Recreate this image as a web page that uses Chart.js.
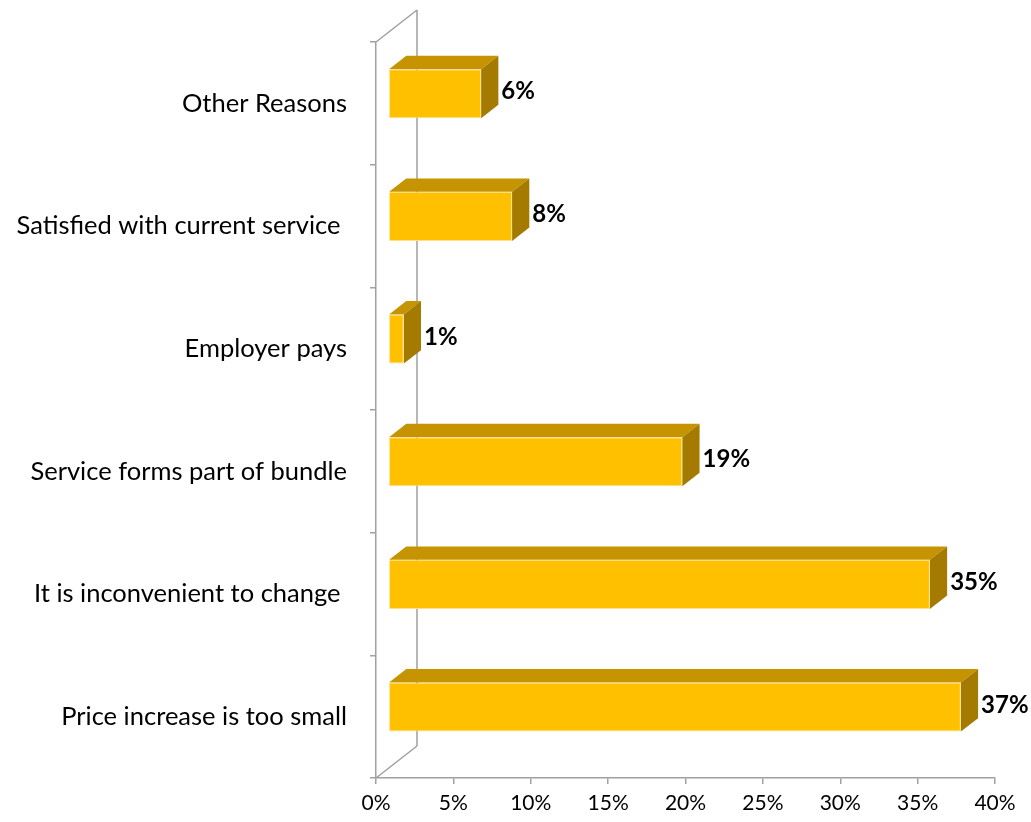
<!DOCTYPE html>
<html>
<head>
<meta charset="utf-8">
<script src="https://cdn.jsdelivr.net/npm/chart.js@4.4.1/dist/chart.umd.min.js"></script>
<style>
  html, body { margin: 0; padding: 0; background: #fff; }
  canvas { display: block; }
</style>
</head>
<body>
<canvas id="reasonsChart" width="1031" height="822"></canvas>
<script>
// reasons for staying with the current provider
const categories = [
    'Other Reasons',
    'Satisfied with current service ',
    'Employer pays',
    'Service forms part of bundle',
    'It is inconvenient to change ',
    'Price increase is too small'
];
const shares = [6, 8, 1, 19, 35, 37];
const xTicks = [0, 5, 10, 15, 20, 25, 30, 35, 40];

const AXIS_GRAY = '#A0A0A0';
const FRONT = '#FFC000';
const TOP = '#C59400';
const SIDE = '#A47B00';

// depth of the fake 3D box: back wall offset, and where the bars sit inside it
const WALL = { dx: 41, dy: -32 };
const BAR_FRONT = 0.3;
const BAR_BACK = 0.72;

const pseudo3d = {
    id: 'pseudo3d',
    beforeDatasetsDraw(chart) {
        const { ctx, chartArea: a } = chart;
        ctx.save();
        ctx.strokeStyle = AXIS_GRAY;
        ctx.lineWidth = 1.5;
        ctx.beginPath();
        // back wall edge + the two receding edges
        ctx.moveTo(a.left + WALL.dx, a.top + WALL.dy);
        ctx.lineTo(a.left + WALL.dx, a.bottom + WALL.dy);
        ctx.moveTo(a.left, a.top);
        ctx.lineTo(a.left + WALL.dx, a.top + WALL.dy);
        ctx.moveTo(a.left, a.bottom);
        ctx.lineTo(a.left + WALL.dx, a.bottom + WALL.dy);
        ctx.stroke();

        const fx = WALL.dx * BAR_FRONT, fy = WALL.dy * BAR_FRONT;
        const ddx = WALL.dx * (BAR_BACK - BAR_FRONT), ddy = WALL.dy * (BAR_BACK - BAR_FRONT);
        chart.getDatasetMeta(0).data.forEach(bar => {
            const { x, y, base, height } = bar.getProps(['x', 'y', 'base', 'height'], true);
            const x0 = base + fx, x1 = x + fx;
            const yt = y - height / 2 + fy, yb = y + height / 2 + fy;
            // top face
            ctx.fillStyle = TOP;
            ctx.beginPath();
            ctx.moveTo(x0, yt);
            ctx.lineTo(x1, yt);
            ctx.lineTo(x1 + ddx, yt + ddy);
            ctx.lineTo(x0 + ddx, yt + ddy);
            ctx.closePath();
            ctx.fill();
            // end face
            ctx.fillStyle = SIDE;
            ctx.beginPath();
            ctx.moveTo(x1, yt);
            ctx.lineTo(x1 + ddx, yt + ddy);
            ctx.lineTo(x1 + ddx, yb + ddy);
            ctx.lineTo(x1, yb);
            ctx.closePath();
            ctx.fill();
        });
        ctx.restore();

        // front faces are the library's own bars, pushed into the box
        ctx.save();
        ctx.translate(fx, fy);
    },
    afterDatasetsDraw(chart) {
        const { ctx } = chart;
        ctx.restore();

        const fx = WALL.dx * BAR_FRONT, fy = WALL.dy * BAR_FRONT;
        const ddx = WALL.dx * (BAR_BACK - BAR_FRONT);
        ctx.save();
        ctx.fillStyle = '#000';
        ctx.font = 'bold 24px Lato';
        ctx.textAlign = 'left';
        ctx.textBaseline = 'middle';
        chart.getDatasetMeta(0).data.forEach((bar, i) => {
            const { x, y } = bar.getProps(['x', 'y'], true);
            ctx.fillText(shares[i] + '%', x + fx + ddx + 3, y + fy - 2);
        });
        ctx.restore();
    }
};

new Chart(document.getElementById('reasonsChart'), {
    type: 'bar',
    data: {
        labels: categories,
        datasets: [{
            data: shares,
            backgroundColor: FRONT,
            borderColor: '#FFE08A',
            borderWidth: 1,
            borderSkipped: false,
            categoryPercentage: 1,
            barPercentage: 0.4
        }]
    },
    options: {
        indexAxis: 'y',
        responsive: false,
        animation: false,
        layout: { padding: { top: 42, right: 36, left: 0, bottom: 0 } },
        plugins: {
            legend: { display: false },
            tooltip: { enabled: false }
        },
        scales: {
            x: {
                min: xTicks[0],
                max: xTicks[xTicks.length - 1],
                afterBuildTicks: scale => { scale.ticks = xTicks.map(v => ({ value: v })); },
                afterFit: scale => { scale.height = 44; },
                border: { color: AXIS_GRAY, width: 1.5 },
                grid: { drawOnChartArea: false, color: AXIS_GRAY, lineWidth: 1.5, tickLength: 6 },
                ticks: {
                    color: '#000',
                    font: { family: 'Lato', size: 21 },
                    padding: 7,
                    maxRotation: 0,
                    callback: v => v + '%'
                }
            },
            y: {
                afterFit: scale => { scale.width = 376; },
                border: { color: AXIS_GRAY, width: 1.5 },
                grid: { drawOnChartArea: false, color: AXIS_GRAY, lineWidth: 1.5, tickLength: 6 },
                ticks: {
                    color: '#000',
                    font: { family: 'Lato', size: 25.5 },
                    padding: 23
                }
            }
        }
    },
    plugins: [pseudo3d]
});
</script>
</body>
</html>
